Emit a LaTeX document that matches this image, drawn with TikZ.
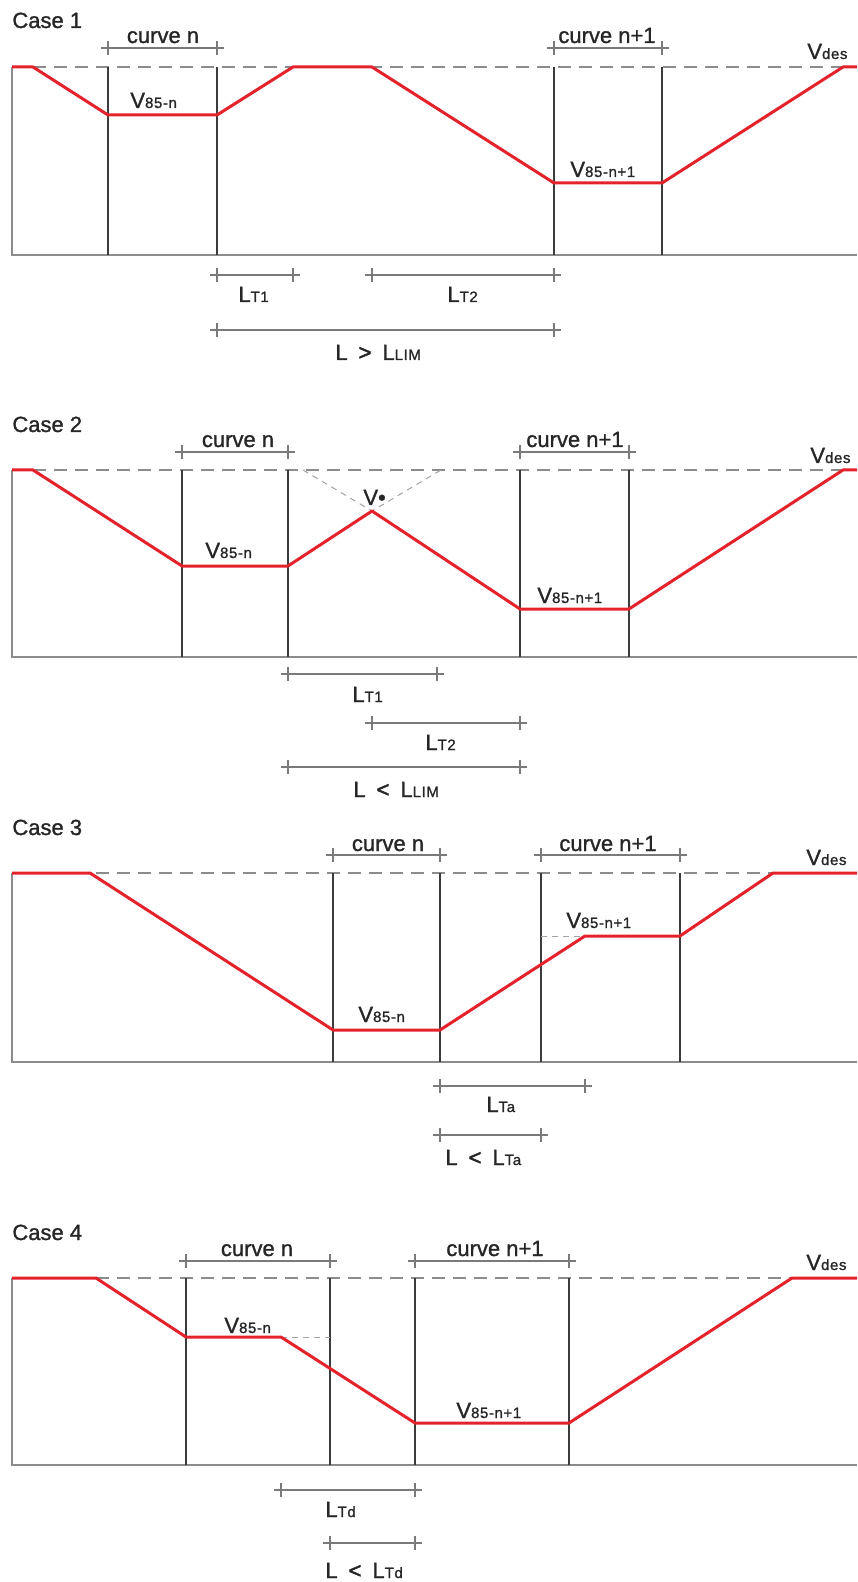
\documentclass[tikz,border=0pt]{standalone}
\usepackage{fontspec}
\setmainfont[FakeBold=1.2]{Liberation Sans}
\newfontfamily\subfam[LetterSpace=4,FakeBold=1.2]{Liberation Sans}
\newfontfamily\relfam[FakeBold=2.5]{Liberation Sans}
\definecolor{profred}{HTML}{E3222B}
\definecolor{framegray}{HTML}{8C8C8C}
\definecolor{postgray}{HTML}{3C3C3C}
\definecolor{dimgray}{HTML}{7A7A7A}
\definecolor{inkgray}{HTML}{262626}
% subscript-sized text sitting on the baseline
\newcommand\smallsub[1]{{\subfam\fontsize{7.5}{8}\selectfont #1}}
% heavy relation sign between the lengths
\newcommand\relsign[1]{\hspace{0.5em}{\relfam #1}\hspace{0.5em}}
% dimension bar with end ticks: x-from, x-to, y, name
\newcommand\dimbar[4]{%
  \coordinate (#4-a) at (#1,#3);
  \coordinate (#4-b) at (#2,#3);
  \draw[dimln] ([xshift=-3.5pt]#4-a) -- ([xshift=3.5pt]#4-b);
  \draw[dimln] ([yshift=3.5pt]#4-a) -- ([yshift=-3.5pt]#4-a);
  \draw[dimln] ([yshift=3.5pt]#4-b) -- ([yshift=-3.5pt]#4-b);
}
\tikzset{
  frameln/.style={draw=framegray, line width=0.8pt},
  postln/.style={draw=postgray, line width=0.65pt},
  desln/.style={draw=framegray, line width=0.7pt, dash pattern=on 6.5pt off 4pt},
  thindash/.style={draw=framegray!80, line width=0.5pt, dash pattern=on 3pt off 2.5pt},
  profile/.style={draw=profred, line width=1.5pt, line join=round},
  dimln/.style={draw=dimgray, line width=0.55pt},
  lbl/.style={inner sep=0pt, text=inkgray, font=\fontsize{11}{13}\selectfont},
}
\begin{document}
\begin{tikzpicture}[x=0.5pt, y=-0.5pt]
\useasboundingbox (0,0) rectangle (857,1582);

% ---------------- Case 1 ----------------
\node[lbl, anchor=base west] (t1) at (12,28) {Case 1};
\draw[desln] (12,67) -- (857,67);
\draw[frameln] (12,67) -- (12,255) -- (857,255);
\foreach \px in {108,217,554,662} \draw[postln] (\px,67) -- (\px,255);
\draw[profile] (12,67) -- (33,67) -- (108,115) -- (217,115) -- (293,67)
  -- (372,67) -- (554,183) -- (662,183) -- (843,67) -- (857,67);
\dimbar{108}{217}{48}{a1}
\node[lbl, anchor=base] (a1l) at (163,43) {curve n};
\dimbar{554}{662}{48}{b1}
\node[lbl, anchor=base] (b1l) at (607,43) {curve n+1};
\node[lbl, anchor=base west] (v1a) at (130,108) {V\smallsub{85-n}};
\node[lbl, anchor=base west] (v1b) at (570,177) {V\smallsub{85-n+1}};
\node[lbl, anchor=base west] (v1d) at (807,59) {V\smallsub{des}};
\dimbar{217}{293}{275}{c1}
\node[lbl, anchor=base west] (c1l) at (238,302) {L\smallsub{T1}};
\dimbar{372}{554}{275}{d1}
\node[lbl, anchor=base west] (d1l) at (447,302) {L\smallsub{T2}};
\dimbar{217}{554}{330}{e1}
\node[lbl, anchor=base west] (e1l) at (335,360) {L\relsign{>}L\smallsub{LIM}};

% ---------------- Case 2 ----------------
\node[lbl, anchor=base west] (t2) at (12,432) {Case 2};
\draw[desln] (12,470) -- (857,470);
\draw[frameln] (12,470) -- (12,657) -- (857,657);
\foreach \px in {182,288,520,629} \draw[postln] (\px,470) -- (\px,657);
\coordinate (apex2) at (372,511);
\draw[thindash] (303,470) -- (apex2) -- (441,470);
\draw[profile] (12,470) -- (33,470) -- (182,566) -- (288,566) -- (apex2)
  -- (520,609) -- (629,609) -- (843,470) -- (857,470);
\dimbar{182}{288}{452}{a2}
\node[lbl, anchor=base] (a2l) at (238,447) {curve n};
\dimbar{520}{629}{452}{b2}
\node[lbl, anchor=base] (b2l) at (575,447) {curve n+1};
\node[lbl, anchor=base west] (v2a) at (205,558) {V\smallsub{85-n}};
\node[lbl, anchor=base west] (v2b) at (537,603) {V\smallsub{85-n+1}};
\node[lbl, anchor=base west] (v2s) at (363,505) {V•};
\node[lbl, anchor=base west] (v2d) at (810,463) {V\smallsub{des}};
\dimbar{288}{437}{674}{c2}
\node[lbl, anchor=base west] (c2l) at (352,702) {L\smallsub{T1}};
\dimbar{372}{520}{723}{d2}
\node[lbl, anchor=base west] (d2l) at (425,750) {L\smallsub{T2}};
\dimbar{288}{520}{767}{e2}
\node[lbl, anchor=base west] (e2l) at (353,797) {L\relsign{<}L\smallsub{LIM}};

% ---------------- Case 3 ----------------
\node[lbl, anchor=base west] (t3) at (12,835) {Case 3};
\draw[desln] (12,873) -- (857,873);
\draw[frameln] (12,873) -- (12,1062) -- (857,1062);
\foreach \px in {333,440,541,680} \draw[postln] (\px,873) -- (\px,1062);
\draw[thindash] (541,936) -- (585,936);
\draw[profile] (12,873) -- (90,873) -- (333,1030) -- (440,1030) -- (585,936)
  -- (680,936) -- (773,873) -- (857,873);
\dimbar{333}{440}{855}{a3}
\node[lbl, anchor=base] (a3l) at (388,851) {curve n};
\dimbar{541}{680}{855}{b3}
\node[lbl, anchor=base] (b3l) at (608,851) {curve n+1};
\node[lbl, anchor=base west] (v3a) at (358,1022) {V\smallsub{85-n}};
\node[lbl, anchor=base west] (v3b) at (566,928) {V\smallsub{85-n+1}};
\node[lbl, anchor=base west] (v3d) at (806,865) {V\smallsub{des}};
\dimbar{440}{585}{1086}{c3}
\node[lbl, anchor=base west] (c3l) at (486,1112) {L\smallsub{Ta}};
\dimbar{440}{541}{1135}{e3}
\node[lbl, anchor=base west] (e3l) at (445,1165) {L\relsign{<}L\smallsub{Ta}};

% ---------------- Case 4 ----------------
\node[lbl, anchor=base west] (t4) at (12,1240) {Case 4};
\draw[desln] (12,1278) -- (857,1278);
\draw[frameln] (12,1278) -- (12,1465) -- (857,1465);
\foreach \px in {186,330,415,569} \draw[postln] (\px,1278) -- (\px,1465);
\draw[thindash] (281,1337) -- (330,1337);
\draw[profile] (12,1278) -- (96,1278) -- (186,1337) -- (281,1337) -- (415,1423)
  -- (569,1423) -- (792,1278) -- (857,1278);
\dimbar{186}{330}{1261}{a4}
\node[lbl, anchor=base] (a4l) at (257,1256) {curve n};
\dimbar{415}{569}{1261}{b4}
\node[lbl, anchor=base] (b4l) at (495,1256) {curve n+1};
\node[lbl, anchor=base west] (v4a) at (224,1333) {V\smallsub{85-n}};
\node[lbl, anchor=base west] (v4b) at (456,1418) {V\smallsub{85-n+1}};
\node[lbl, anchor=base west] (v4d) at (806,1270) {V\smallsub{des}};
\dimbar{281}{415}{1490}{c4}
\node[lbl, anchor=base west] (c4l) at (325,1517) {L\smallsub{Td}};
\dimbar{330}{415}{1543}{e4}
\node[lbl, anchor=base west] (e4l) at (325,1578) {L\relsign{<}L\smallsub{Td}};
\end{tikzpicture}
\end{document}
